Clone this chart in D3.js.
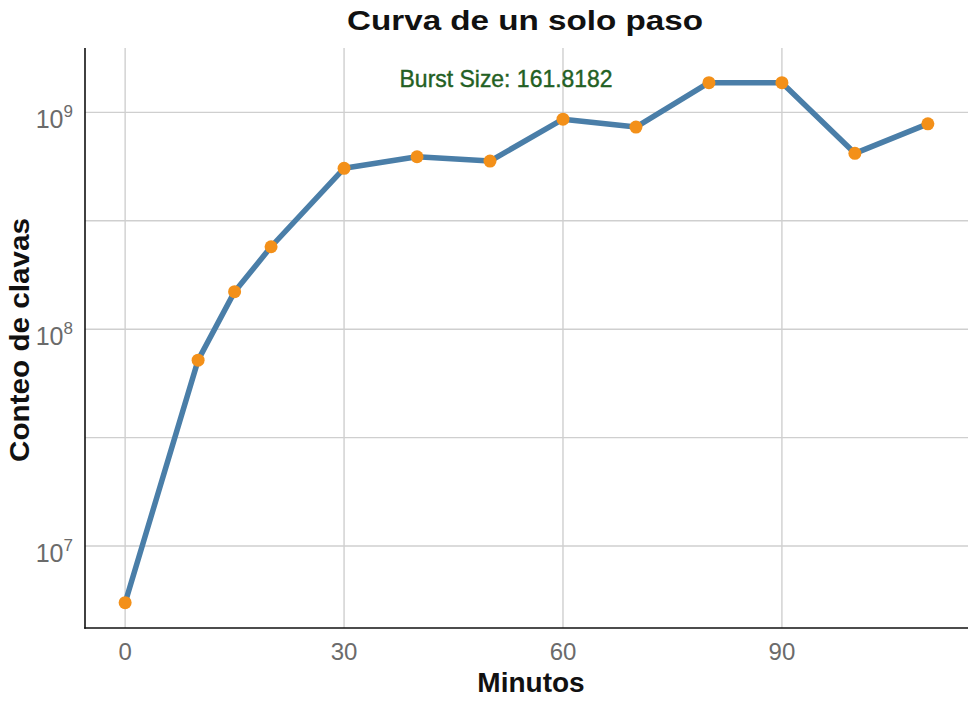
<!DOCTYPE html>
<html>
<head>
<meta charset="utf-8">
<script src="https://cdn.jsdelivr.net/npm/d3@7"></script>
<style>
  html, body { margin: 0; padding: 0; background: #fff; }
  svg { display: block; font-family: "Liberation Sans", Arial, sans-serif; }
</style>
</head>
<body>
<svg id="chart" width="973" height="701"></svg>
<script>
// Key counts over time (log scale)
const minutes = [0, 10, 15, 20, 30, 40, 50, 60, 70, 80, 90, 100, 110];
const keyCounts = [5.48e6, 7.2e7, 1.49e8, 2.4e8, 5.52e8, 6.24e8, 5.96e8, 9.3e8, 8.55e8, 1.37e9, 1.37e9, 6.47e8, 8.85e8];

const xTicks = [0, 30, 60, 90];
const yTicks = [1e7, 1e8, 1e9];
const yExponents = ["7", "8", "9"];
const yMinor = [Math.pow(10, 7.5), Math.pow(10, 8.5)];

const titleText = "Curva de un solo paso";
const xTitle = "Minutos";
const yTitle = "Conteo de clavas";
const burstLabel = "Burst Size: 161.8182";
const burstX = 52.2;
const burstY = 1.44e9;

const W = 973, H = 701;
const panel = { left: 85, right: 968, top: 48, bottom: 628 };

const svg = d3.select("#chart");

const x = d3.scaleLinear().domain([-5.5, 115.5]).range([panel.left, panel.right]);
const y = d3.scaleLog().domain([4.19e6, 1.98e9]).range([panel.bottom, panel.top]);

const grid = svg.append("g").attr("class", "grid");
// horizontal grid lines (decades and half decades)
grid.selectAll("line.h")
  .data(yTicks.concat(yMinor))
  .join("line")
  .attr("class", "h")
  .attr("x1", panel.left).attr("x2", panel.right)
  .attr("y1", d => y(d)).attr("y2", d => y(d))
  .attr("stroke", "#cfcfcf").attr("stroke-width", 1.4);
// vertical grid lines
grid.selectAll("line.v")
  .data(xTicks)
  .join("line")
  .attr("class", "v")
  .attr("y1", panel.top).attr("y2", panel.bottom)
  .attr("x1", d => x(d)).attr("x2", d => x(d))
  .attr("stroke", "#cfcfcf").attr("stroke-width", 1.4);

// axis lines
svg.append("line")
  .attr("x1", panel.left).attr("x2", panel.left)
  .attr("y1", panel.top).attr("y2", panel.bottom + 0.75)
  .attr("stroke", "#111").attr("stroke-width", 1.6);
svg.append("line")
  .attr("x1", panel.left - 0.75).attr("x2", panel.right)
  .attr("y1", panel.bottom).attr("y2", panel.bottom)
  .attr("stroke", "#111").attr("stroke-width", 1.6);

// x tick labels
svg.append("g").selectAll("text")
  .data(xTicks)
  .join("text")
  .attr("x", d => x(d))
  .attr("y", panel.bottom + 32)
  .attr("text-anchor", "middle")
  .attr("font-size", 24)
  .attr("fill", "#6b6b6b")
  .text(d => d);

// y tick labels: 10 with a superscript exponent
const yLab = svg.append("g").selectAll("text")
  .data(yTicks)
  .join("text")
  .attr("x", 73)
  .attr("y", d => y(d) + 16)
  .attr("text-anchor", "end")
  .attr("fill", "#6b6b6b");
yLab.append("tspan").attr("font-size", 25).text("10");
yLab.append("tspan").attr("font-size", 17).attr("dy", -11.5).text((d, i) => yExponents[i]);

// series line
const line = d3.line().x((d, i) => x(minutes[i])).y(d => y(d));
svg.append("path")
  .datum(keyCounts)
  .attr("d", line)
  .attr("fill", "none")
  .attr("stroke", "#4a7ea8")
  .attr("stroke-width", 5.5)
  .attr("stroke-linejoin", "round");

// points
svg.append("g").selectAll("circle")
  .data(keyCounts)
  .join("circle")
  .attr("cx", (d, i) => x(minutes[i]))
  .attr("cy", d => y(d))
  .attr("r", 6.5)
  .attr("fill", "#f39019");

// annotation
svg.append("text")
  .attr("x", x(burstX))
  .attr("y", y(burstY) + 9)
  .attr("text-anchor", "middle")
  .attr("font-size", 24)
  .attr("fill", "#236023")
  .attr("stroke", "#236023")
  .attr("stroke-width", 0.4)
  .attr("textLength", 213)
  .attr("lengthAdjust", "spacingAndGlyphs")
  .text(burstLabel);

// title
svg.append("text")
  .attr("x", 525)
  .attr("y", 30)
  .attr("text-anchor", "middle")
  .attr("font-size", 28)
  .attr("font-weight", "bold")
  .attr("fill", "#111")
  .attr("textLength", 356)
  .attr("lengthAdjust", "spacingAndGlyphs")
  .text(titleText);

// axis titles
svg.append("text")
  .attr("x", 531)
  .attr("y", 692)
  .attr("text-anchor", "middle")
  .attr("font-size", 28)
  .attr("font-weight", "bold")
  .attr("fill", "#111")
  .text(xTitle);

svg.append("text")
  .attr("transform", "translate(29,340) rotate(-90)")
  .attr("text-anchor", "middle")
  .attr("font-size", 28)
  .attr("font-weight", "bold")
  .attr("fill", "#111")
  .attr("textLength", 244)
  .attr("lengthAdjust", "spacingAndGlyphs")
  .text(yTitle);
</script>
</body>
</html>
